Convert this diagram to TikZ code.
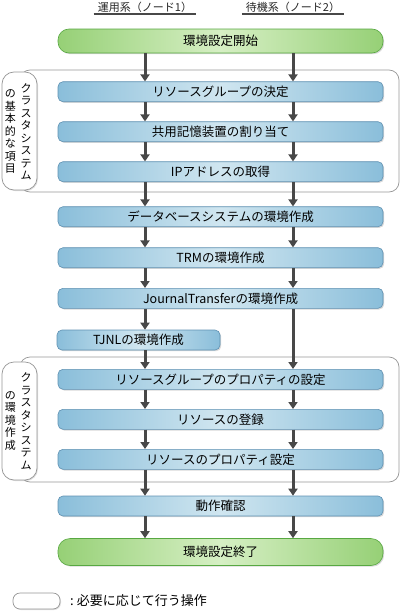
\documentclass[tikz,border=0pt]{standalone}
\usepackage{fontspec}
\setmainfont{Noto Sans CJK JP}
\usetikzlibrary{arrows.meta,shadows}
\definecolor{taskdark}{RGB}{138,190,218}
\definecolor{tasklight}{RGB}{208,230,240}
\definecolor{taskline}{RGB}{95,145,178}
\definecolor{okdark}{RGB}{150,208,118}
\definecolor{oklight}{RGB}{214,239,196}
\definecolor{okline}{RGB}{88,168,66}
\definecolor{flowgray}{RGB}{72,72,72}
\definecolor{framegray}{RGB}{150,150,150}

\begin{document}
\begin{tikzpicture}[x=1pt, y=-1pt,
  task/.style={draw=taskline, line width=0.6pt, rounded corners=5pt, left color=taskdark, right color=taskdark, middle color=tasklight, minimum height=20pt, inner sep=0pt, font=\fontsize{12.5}{14}\selectfont, drop shadow={shadow xshift=1.2pt, shadow yshift=-1.2pt, opacity=0.3}},
  wide/.style={task, minimum width=325pt},
  ends/.style={wide, draw=okline, left color=okdark, right color=okdark, middle color=oklight, rounded corners=11pt, minimum height=24pt},
  flow/.style={draw=flowgray, line width=3pt, -{Triangle[width=9pt,length=7pt]}},
  grp/.style={draw=framegray, line width=0.7pt, rounded corners=10pt},
  bubble/.style={draw=framegray, fill=white, line width=0.7pt, rounded corners=12pt, drop shadow={shadow xshift=1pt, shadow yshift=-1pt, opacity=0.25}},
  vtext/.style={align=center, inner sep=0pt, font=\fontsize{11}{12.5}\selectfont},
  head/.style={font=\fontsize{11}{13}\selectfont, text=black!85, inner sep=1pt}]
\useasboundingbox (0,0) rectangle (402,613);
\coordinate (colA) at (145,0);
\coordinate (colB) at (293,0);

\node[head] (hdA) at (145,7.5) {運用系（ノード1）};
\node[head] (hdB) at (293,7.5) {待機系（ノード2）};
\draw[flowgray, line width=2.5pt] ([xshift=-3pt]hdA.south west) -- ([xshift=3pt]hdA.south east);
\draw[flowgray, line width=2.5pt] ([xshift=-3pt]hdB.south west) -- ([xshift=3pt]hdB.south east);

\draw[grp] (20,70) rectangle (399,192);
\draw[grp] (20,357) rectangle (399,482);
\draw[bubble] (2,72) rectangle (37,190);
\draw[bubble] (2,362) rectangle (37,480);
\node[vtext] (capA) at (26,131.5) {ク\\ラ\\ス\\タ\\シ\\ス\\テ\\ム};
\node[vtext] (subA) at (10.5,131.5) {の\\基\\本\\的\\な\\項\\目};
\node[vtext] (capB) at (26,421) {ク\\ラ\\ス\\タ\\シ\\ス\\テ\\ム};
\node[vtext] (subB) at (10.5,421) {の\\環\\境\\作\\成};

\node[ends] (start) at (220.5,41) {環境設定開始};
\node[wide] (rgdef) at (220.5,91.7) {リソースグループの決定};
\node[wide] (shdisk) at (220.5,131.7) {共用記憶装置の割り当て};
\node[wide] (ipaddr) at (220.5,171.7) {IPアドレスの取得};
\node[wide] (dbenv) at (220.5,216.7) {データベースシステムの環境作成};
\node[wide] (trmenv) at (220.5,257.7) {TRMの環境作成};
\node[wide] (jtenv) at (220.5,298.3) {JournalTransferの環境作成};
\node[task, minimum width=163pt] (tjnlenv) at (138.5,340) {TJNLの環境作成};
\node[wide] (rgprop) at (220.5,379.3) {リソースグループのプロパティの設定};
\node[wide] (rsreg) at (220.5,419.3) {リソースの登録};
\node[wide] (rsprop) at (220.5,459.3) {リソースのプロパティ設定};
\node[wide] (check) at (220.5,506) {動作確認};
\node[ends, minimum height=27pt, rounded corners=12pt] (finish) at (220.5,552) {環境設定終了};

\foreach \a/\b in {start/rgdef, rgdef/shdisk, shdisk/ipaddr, ipaddr/dbenv, dbenv/trmenv, trmenv/jtenv, rgprop/rsreg, rsreg/rsprop, rsprop/check, check/finish}{
\draw[flow] (\a.south -| colA) -- (\b.north -| colA);
\draw[flow] (\a.south -| colB) -- (\b.north -| colB);
}
\draw[flow] (jtenv.south -| colA) -- (tjnlenv.north -| colA);
\draw[flow] (tjnlenv.south -| colA) -- (rgprop.north -| colA);
\draw[flow] (jtenv.south -| colB) -- (rgprop.north -| colB);

\node[bubble, rounded corners=7pt, minimum width=47pt, minimum height=16pt, inner sep=0pt] (key) at (36.5,601) {};
\node[anchor=west, inner sep=0pt, font=\fontsize{13}{15}\selectfont] (keytext) at (70,601) {:\hspace{3pt}必要に応じて行う操作};
\end{tikzpicture}
\end{document}
